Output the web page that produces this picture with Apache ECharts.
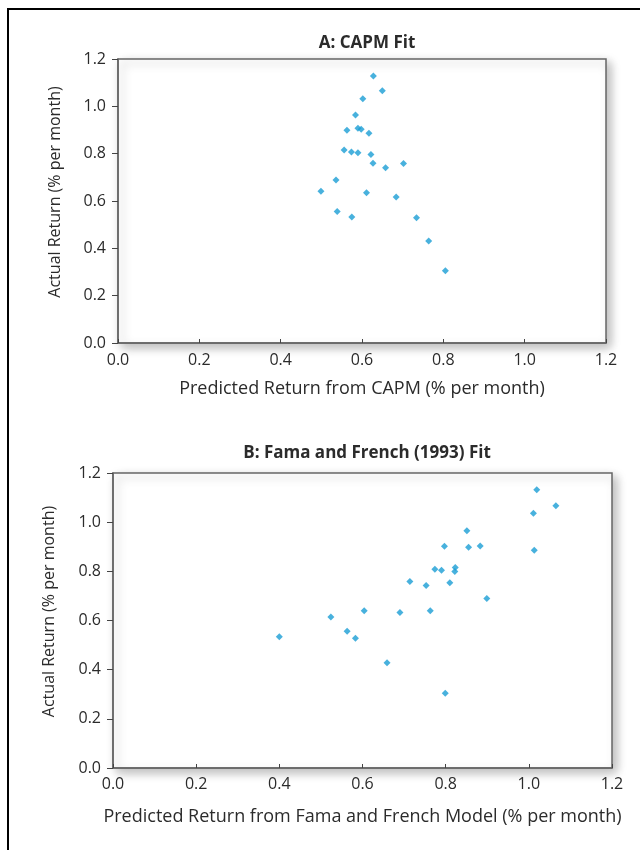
<!DOCTYPE html>
<html>
<head>
<meta charset="utf-8">
<style>
  html, body { margin: 0; padding: 0; background: #fff; }
  #chart { width: 640px; height: 850px; }
</style>
<script src="https://cdn.jsdelivr.net/npm/echarts@6/dist/echarts.min.js"></script>
</head>
<body>
<div id="chart"></div>
<script>
// Panel A: predicted (CAPM) vs actual monthly return, % per month
const capmPredicted = [0.499, 0.536, 0.539, 0.575, 0.563, 0.584, 0.556, 0.574, 0.590, 0.590, 0.598, 0.617,
  0.628, 0.650, 0.602, 0.622, 0.627, 0.658, 0.702, 0.611, 0.684, 0.734, 0.764, 0.805]
const capmActual = [0.641, 0.689, 0.556, 0.532, 0.899, 0.963, 0.815, 0.807, 0.804, 0.907, 0.903, 0.886,
  1.128, 1.066, 1.032, 0.797, 0.759, 0.741, 0.758, 0.635, 0.617, 0.529, 0.431, 0.305]

// Panel B: predicted (Fama-French 3 factor) vs actual
const ffPredicted = [0.400, 0.524, 0.563, 0.583, 0.604, 0.659, 0.690, 0.714, 0.753, 0.763, 0.774, 0.790,
  0.797, 0.810, 0.823, 0.822, 0.851, 0.855, 0.883, 0.899, 0.799, 1.011, 1.019, 1.065, 1.013]
const ffActual = [0.534, 0.614, 0.556, 0.528, 0.640, 0.428, 0.633, 0.759, 0.742, 0.640, 0.808, 0.804,
  0.902, 0.754, 0.816, 0.799, 0.965, 0.898, 0.903, 0.689, 0.304, 1.036, 1.132, 1.067, 0.886]

const FONT = '"Open Sans", "Noto Sans", sans-serif'
const INK = '#2b2b2b'
const AXIS = '#666'
const DOT = '#1a9dd4'

const pairs = (xs, ys) => xs.map((x, i) => [x, ys[i]])

function gridBox(left, top, width, height) {
  return {
    left, top, width, height, show: true,
    backgroundColor: '#fff', borderColor: AXIS, borderWidth: 1.5,
    shadowColor: 'rgba(0,0,0,0.28)', shadowBlur: 10, shadowOffsetX: 4, shadowOffsetY: 4,
  }
}

function xAx(gridIndex, name, nameGap, labelMargin) {
  return {
    type: 'value', gridIndex, min: 0, max: 1.2, interval: 0.2,
    name, nameLocation: 'middle', nameGap,
    nameTextStyle: { color: INK, fontSize: 18, fontFamily: FONT },
    axisLine: { show: true, onZero: false, lineStyle: { color: AXIS, width: 1.5 } },
    axisTick: { show: true, inside: true, length: 4, lineStyle: { color: '#444' } },
    axisLabel: { color: INK, fontSize: 16, fontFamily: FONT, margin: labelMargin,
      formatter: v => v.toFixed(1) },
    splitLine: { show: false },
  }
}

function yAx(gridIndex, nameGap) {
  return {
    type: 'value', gridIndex, min: 0, max: 1.2, interval: 0.2,
    name: 'Actual Return (% per month)', nameLocation: 'middle', nameGap,
    // left padding nudges the rotated name a little upward, as in the print
    nameTextStyle: { color: INK, fontSize: 16, fontFamily: FONT, padding: [0, 0, 0, 18] },
    axisLine: { show: true, onZero: false, lineStyle: { color: AXIS, width: 1.5 } },
    axisTick: { show: true, inside: false, length: 6, lineStyle: { color: '#444' } },
    axisLabel: { color: INK, fontSize: 16, fontFamily: FONT, margin: 12,
      formatter: v => v.toFixed(1) },
    splitLine: { show: false },
  }
}

function dots(i, data) {
  return {
    type: 'scatter', xAxisIndex: i, yAxisIndex: i, data,
    symbol: 'diamond', symbolSize: 7,
    itemStyle: { color: DOT }, silent: true,
  }
}

const chart = echarts.init(document.getElementById('chart'), null, { renderer: 'canvas' })
chart.setOption({
  animation: false,
  textStyle: { fontFamily: FONT },
  title: [
    { text: 'A: CAPM Fit', left: 362, top: 30, textAlign: 'center',
      textStyle: { fontSize: 17, fontWeight: 'bold', color: INK, fontFamily: FONT } },
    { text: 'B: Fama and French (1993) Fit', left: 362, top: 440, textAlign: 'center',
      textStyle: { fontSize: 17, fontWeight: 'bold', color: INK, fontFamily: FONT } },
  ],
  grid: [gridBox(118, 59, 488, 284), gridBox(113, 473, 499, 295)],
  xAxis: [
    xAx(0, 'Predicted Return from CAPM (% per month)', 37, 9),
    xAx(1, 'Predicted Return from Fama and French Model (% per month)', 40, 8),
  ],
  yAxis: [yAx(0, 55), yAx(1, 56)],
  series: [dots(0, pairs(capmPredicted, capmActual)), dots(1, pairs(ffPredicted, ffActual))],
  graphic: [{
    type: 'rect', silent: true,
    shape: { x: 8, y: 9, width: 700, height: 900 },
    style: { fill: 'none', stroke: '#000', lineWidth: 2 },
  }],
})
</script>
</body>
</html>
